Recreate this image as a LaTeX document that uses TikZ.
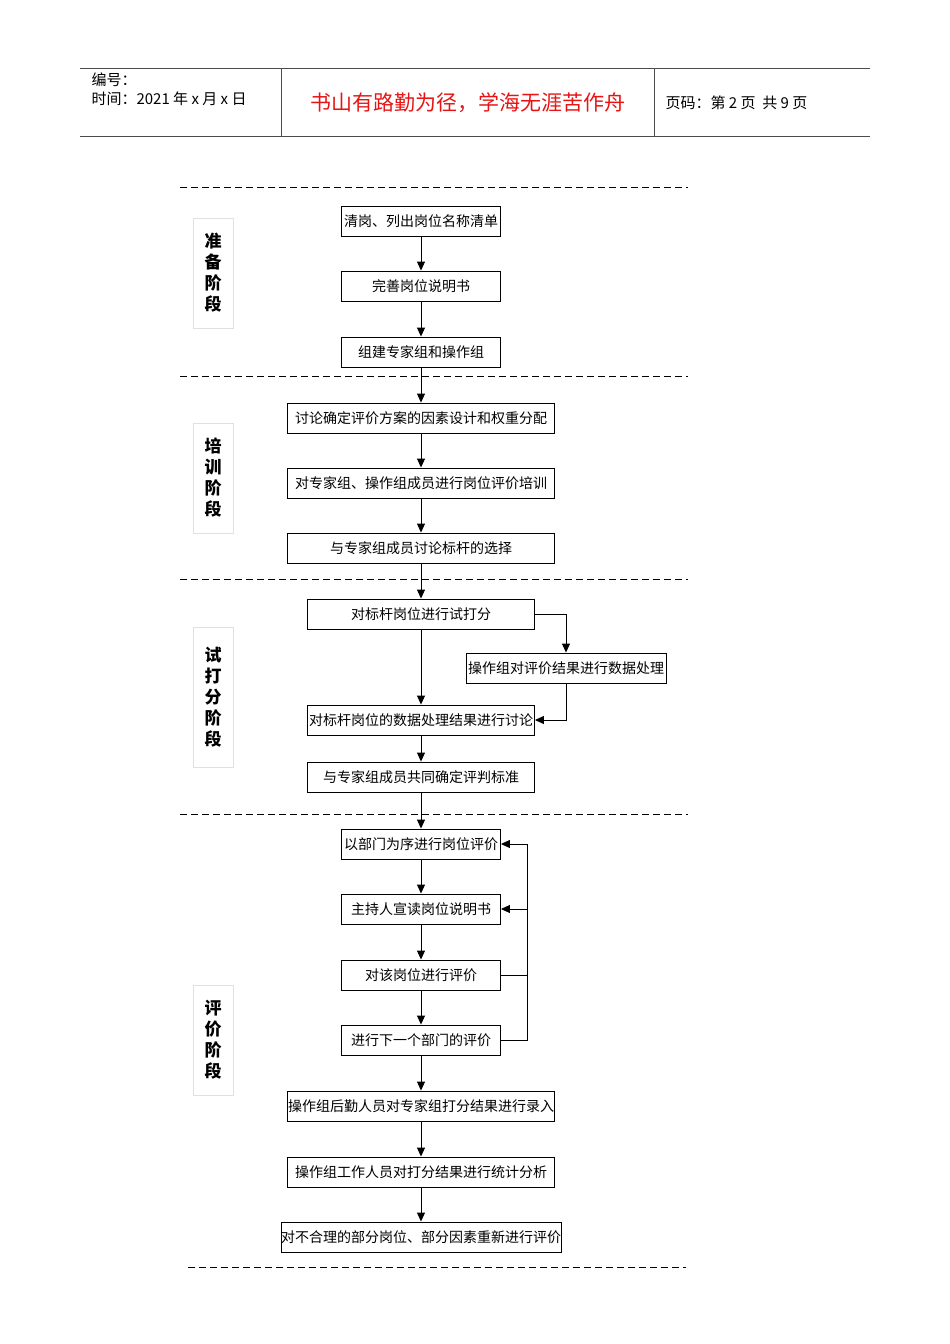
\documentclass[tikz,border=0pt]{standalone}
\usepackage{fontspec}
\setmainfont{Noto Sans CJK SC}
\usetikzlibrary{arrows.meta}
\definecolor{hdr}{RGB}{230,20,20}
\begin{document}
\begin{tikzpicture}[x=1pt,y=-1pt,
 bx/.style={draw,line width=0.9pt,inner sep=0pt,font=\fontsize{14}{14}\selectfont},
 stg/.style={draw=black!12,inner sep=0pt,minimum width=40pt,font=\bfseries\fontsize{17}{21}\selectfont,align=center},
 ar/.style={-{Triangle[length=9pt,width=8pt]},line width=1pt},
 dsh/.style={dash pattern=on 7pt off 4pt,line width=0.9pt}]
\useasboundingbox (0,0) rectangle (950,1344);
% header
\draw[line width=0.9pt,black!70] (80,68)--(870,68) (80,136)--(870,136) (281,68)--(281,136) (654,68)--(654,136);
\node[anchor=west,align=left,font=\fontsize{15}{19}\selectfont] (h1) at (88,89) {编号：\\时间：2021 年 x 月 x 日};
\node[font=\fontsize{21}{21}\selectfont,text=hdr] (h2) at (468,103) {书山有路勤为径，学海无涯苦作舟};
\node[anchor=west,font=\fontsize{15}{15}\selectfont] (h3) at (662,103) {页码：第 2 页\ \ 共 9 页};
% dashes
\foreach \y in {187,376,579,814} \draw[dsh] (180,\y)--(688,\y);
\draw[dsh] (188,1267)--(686,1267);
% stage labels
\node[stg,minimum height=110pt] (s1) at (213,273) {准\\备\\阶\\段};
\node[stg,minimum height=110pt] (s2) at (213,478) {培\\训\\阶\\段};
\node[stg,minimum height=140pt] (s3) at (213,697) {试\\打\\分\\阶\\段};
\node[stg,minimum height=110pt] (s4) at (213,1040) {评\\价\\阶\\段};
% boxes
\newcommand\bxa[4]{\node[bx,minimum width=#2pt,minimum height=30pt] (#1) at #3 {#4};}
\bxa{b1}{159}{(421,221)}{清岗、列出岗位名称清单}
\bxa{b2}{159}{(421,286)}{完善岗位说明书}
\bxa{b3}{159}{(421,352)}{组建专家组和操作组}
\bxa{b4}{267}{(421,418)}{讨论确定评价方案的因素设计和权重分配}
\bxa{b5}{267}{(421,483)}{对专家组、操作组成员进行岗位评价培训}
\bxa{b6}{267}{(421,548)}{与专家组成员讨论标杆的选择}
\bxa{b7}{227}{(421,614)}{对标杆岗位进行试打分}
\bxa{b8}{200}{(566,668)}{操作组对评价结果进行数据处理}
\bxa{b9}{227}{(421,720)}{对标杆岗位的数据处理结果进行讨论}
\bxa{b10}{227}{(421,777)}{与专家组成员共同确定评判标准}
\bxa{b11}{159}{(421,844)}{以部门为序进行岗位评价}
\bxa{b12}{159}{(421,909)}{主持人宣读岗位说明书}
\bxa{b13}{159}{(421,975)}{对该岗位进行评价}
\bxa{b14}{159}{(421,1040)}{进行下一个部门的评价}
\bxa{b15}{267}{(421,1106)}{操作组后勤人员对专家组打分结果进行录入}
\bxa{b16}{267}{(421,1172)}{操作组工作人员对打分结果进行统计分析}
\bxa{b17}{267}{(421,1237)}{对不合理的部分岗位、部分因素重新进行评价}
\foreach \a/\b in {b1/b2,b2/b3,b3/b4,b4/b5,b5/b6,b6/b7,b7/b9,b9/b10,b10/b11,b11/b12,b12/b13,b13/b14,b14/b15,b15/b16,b16/b17}
  \draw[ar] (\a.south)--(\b.north);
\draw[ar] (b7.east)-|(b8.north);
\draw[ar] (b8.south)|-(b9.east);
\coordinate (r) at (527,0);
\draw[line width=1pt] (b13.east)--(b13.east-|r) (b14.east)-|(b11.east-|r);
\draw[ar] (b11.east-|r)--(b11.east);
\draw[ar] (b12.east-|r)--(b12.east);
\end{tikzpicture}
\end{document}
